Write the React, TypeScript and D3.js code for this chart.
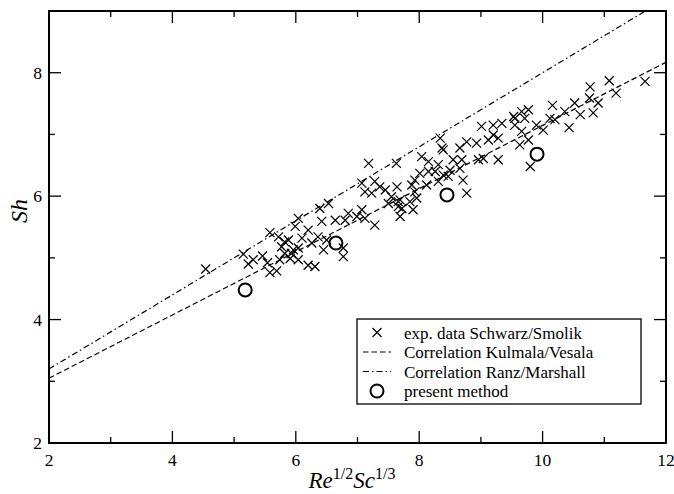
import React, { useEffect, useRef } from "react";
import * as d3 from "d3";

// exp. data Schwarz/Smolik
const expX = [
  4.54, 5.15, 5.31, 5.23, 5.46, 5.54, 5.58, 5.69, 5.74, 5.82, 5.58, 5.72, 5.82, 5.77, 5.99, 5.96,
  6.04, 6.2, 6.1, 6.36, 6.26, 6.5, 6.45, 6.77, 6.77, 5.88, 5.93, 6.04, 5.91, 6.04, 6.2, 6.31,
  6.53, 6.39, 6.85, 6.99, 7.12, 7.28, 7.07, 6.8, 6.64, 6.42, 7.18, 7.63, 7.07, 7.28, 7.36, 7.12,
  7.23, 7.45, 7.55, 7.66, 7.5, 7.72, 7.69, 9.01, 9.2, 9.34, 9.55, 9.2, 9.12, 9.28, 8.77, 8.93,
  8.66, 8.34, 8.39, 8.37, 8.55, 8.69, 8.96, 9.04, 9.28, 8.04, 8.15, 8.31, 8.26, 8.01, 8.15, 8.5,
  8.66, 8.39, 8.47, 7.93, 8.12, 8.31, 8.71, 7.88, 7.64, 7.93, 8.77, 7.69, 7.85, 7.96, 7.66, 7.9,
  11.66, 11.08, 11.19, 10.77, 10.76, 10.9, 10.82, 10.52, 10.61, 10.36, 10.16, 10.43, 10.12, 10.2,
  10.01, 9.9, 9.77, 9.66, 9.53, 9.71, 9.55, 9.66, 9.77, 9.63, 9.8,
];
const expY = [
  4.82, 5.06, 4.97, 4.9, 5.03, 4.92, 4.76, 4.79, 4.97, 5.07, 5.41, 5.34, 5.26, 5.18, 5.51, 5.13,
  5.64, 5.45, 5.32, 5.34, 5.24, 5.29, 5.13, 5.16, 5.02, 5.29, 5.07, 5.16, 4.99, 4.97, 4.88, 4.86,
  5.88, 5.8, 5.72, 5.67, 5.64, 5.53, 5.78, 5.61, 5.61, 5.59, 6.53, 6.53, 6.21, 6.24, 6.15, 6.07,
  6.05, 6.1, 5.99, 5.91, 5.88, 5.8, 5.67, 7.13, 7.15, 7.18, 7.26, 6.99, 6.91, 6.94, 6.88, 6.86,
  6.78, 6.94, 6.75, 6.78, 6.59, 6.59, 6.59, 6.61, 6.59, 6.64, 6.56, 6.51, 6.4, 6.37, 6.4, 6.42,
  6.45, 6.34, 6.32, 6.26, 6.18, 6.24, 6.26, 6.18, 6.15, 6.07, 6.05, 5.94, 5.91, 5.97, 5.83, 5.78,
  7.86, 7.87, 7.67, 7.77, 7.59, 7.51, 7.35, 7.51, 7.32, 7.37, 7.47, 7.11, 7.26, 7.24,
  7.07, 7.15, 7.4, 7.37, 7.29, 7.26, 7.15, 7.05, 6.91, 6.83, 6.48,
];

// present method
const methodX = [5.18, 6.65, 8.45, 9.91];
const methodY = [4.48, 5.24, 6.02, 6.68];

// correlations (end points)
const corrX = [2, 12];
const kulmalaY = [3.05, 8.17];
const ranzY = [3.2, 9.2];

const xTicks = [2, 4, 6, 8, 10, 12];
const xMinor = [3, 5, 7, 9, 11];
const yTicks = [2, 4, 6, 8];
const yMinor = [3, 5, 7];

const legendLabels = [
  "exp. data Schwarz/Smolik",
  "Correlation Kulmala/Vesala",
  "Correlation Ranz/Marshall",
  "present method",
];

const W = 674;
const H = 494;
const margin = { top: 11, right: 8, bottom: 51, left: 49 };
const FONT = "'Liberation Serif', 'Times New Roman', Times, serif";
const DASH = "5.5,3";
const DASHDOT = "6,3,1.5,3";

const App = () => {
  const ref = useRef<SVGSVGElement>(null);

  useEffect(() => {
    const svg = d3.select(ref.current);
    svg.selectAll("*").remove();
    const width = W - margin.left - margin.right;
    const height = H - margin.top - margin.bottom;

    const x = d3.scaleLinear().domain([2, 12]).range([margin.left, margin.left + width]);
    const y = d3.scaleLinear().domain([2, 9]).range([margin.top + height, margin.top]);

    svg.append("defs").append("clipPath").attr("id", "plotclip")
      .append("rect")
      .attr("x", margin.left).attr("y", margin.top)
      .attr("width", width).attr("height", height);

    const plot = svg.append("g").attr("clip-path", "url(#plotclip)");

    const line = d3.line<[number, number]>().x((d) => x(d[0])).y((d) => y(d[1]));
    plot.append("path")
      .attr("d", line(corrX.map((v, i) => [v, kulmalaY[i]] as [number, number])))
      .attr("fill", "none").attr("stroke", "#000").attr("stroke-width", 1.2)
      .attr("stroke-dasharray", DASH);
    plot.append("path")
      .attr("d", line(corrX.map((v, i) => [v, ranzY[i]] as [number, number])))
      .attr("fill", "none").attr("stroke", "#000").attr("stroke-width", 1.2)
      .attr("stroke-dasharray", DASHDOT);

    const s = 4.5;
    const cross = (cx: number, cy: number) =>
      `M${cx - s},${cy - s}L${cx + s},${cy + s}M${cx - s},${cy + s}L${cx + s},${cy - s}`;

    plot.selectAll(".exp")
      .data(expX)
      .enter().append("path")
      .attr("class", "exp")
      .attr("d", (d, i) => cross(x(d), y(expY[i])))
      .attr("stroke", "#000").attr("stroke-width", 1.2).attr("fill", "none");

    plot.selectAll(".method")
      .data(methodX)
      .enter().append("circle")
      .attr("class", "method")
      .attr("cx", (d) => x(d)).attr("cy", (d, i) => y(methodY[i]))
      .attr("r", 6.5)
      .attr("fill", "none").attr("stroke", "#000").attr("stroke-width", 2);

    // ticks on all four sides, pointing inward
    const axes = svg.append("g").attr("stroke", "#000").attr("stroke-width", 1.3);
    const bottom = margin.top + height;
    const top = margin.top;
    const left = margin.left;
    const right = margin.left + width;
    xTicks.concat(xMinor).forEach((t) => {
      const len = xTicks.includes(t) ? 12 : 6;
      axes.append("line").attr("x1", x(t)).attr("x2", x(t)).attr("y1", bottom).attr("y2", bottom - len);
      axes.append("line").attr("x1", x(t)).attr("x2", x(t)).attr("y1", top).attr("y2", top + len);
    });
    yTicks.concat(yMinor).forEach((t) => {
      const len = yTicks.includes(t) ? 12 : 6;
      axes.append("line").attr("y1", y(t)).attr("y2", y(t)).attr("x1", left).attr("x2", left + len);
      axes.append("line").attr("y1", y(t)).attr("y2", y(t)).attr("x1", right).attr("x2", right - len);
    });

    svg.append("rect")
      .attr("x", left).attr("y", top).attr("width", width).attr("height", height)
      .attr("fill", "none").attr("stroke", "#000").attr("stroke-width", 2);

    const labels = svg.append("g").attr("font-family", FONT).attr("font-size", 17.5).attr("fill", "#000");
    xTicks.forEach((t) => {
      labels.append("text").attr("x", x(t)).attr("y", 466).attr("text-anchor", "middle").text(t);
    });
    yTicks.forEach((t) => {
      labels.append("text").attr("x", 42).attr("y", y(t) + 6).attr("text-anchor", "end").text(t);
    });

    const xt = svg.append("text")
      .attr("x", 352).attr("y", 488).attr("text-anchor", "middle")
      .attr("font-family", FONT).attr("font-size", 23);
    xt.append("tspan").attr("font-style", "italic").text("Re");
    xt.append("tspan").attr("font-size", 16).attr("dy", -9).text("1/2");
    xt.append("tspan").attr("font-style", "italic").attr("dy", 9).text("Sc");
    xt.append("tspan").attr("font-size", 16).attr("dy", -9).text("1/3");

    svg.append("text")
      .attr("transform", "translate(27,211) rotate(-90)")
      .attr("text-anchor", "middle")
      .attr("font-family", FONT).attr("font-size", 24).attr("font-style", "italic")
      .text("Sh");

    // legend
    const lg = svg.append("g");
    lg.append("rect")
      .attr("x", 357).attr("y", 319).attr("width", 284).attr("height", 85)
      .attr("fill", "#fff").attr("stroke", "#000").attr("stroke-width", 1.3);
    const rows = [332.5, 352, 371.5, 391];
    lg.append("path").attr("d", cross(377, rows[0])).attr("stroke", "#000").attr("stroke-width", 1.2);
    lg.append("line").attr("x1", 363).attr("x2", 391).attr("y1", rows[1]).attr("y2", rows[1])
      .attr("stroke", "#000").attr("stroke-width", 1.2).attr("stroke-dasharray", DASH);
    lg.append("line").attr("x1", 363).attr("x2", 391).attr("y1", rows[2]).attr("y2", rows[2])
      .attr("stroke", "#000").attr("stroke-width", 1.2).attr("stroke-dasharray", DASHDOT);
    lg.append("circle").attr("cx", 377).attr("cy", rows[3]).attr("r", 6.5)
      .attr("fill", "none").attr("stroke", "#000").attr("stroke-width", 2);
    legendLabels.forEach((l, i) => {
      lg.append("text").attr("x", 404).attr("y", rows[i] + 6)
        .attr("font-family", FONT).attr("font-size", 17).text(l);
    });
  }, []);

  return (
    <svg
      ref={ref}
      width={W}
      height={H}
      style={{ position: "absolute", left: 0, top: 0, background: "#fff" }}
    ></svg>
  );
};

export default App;
